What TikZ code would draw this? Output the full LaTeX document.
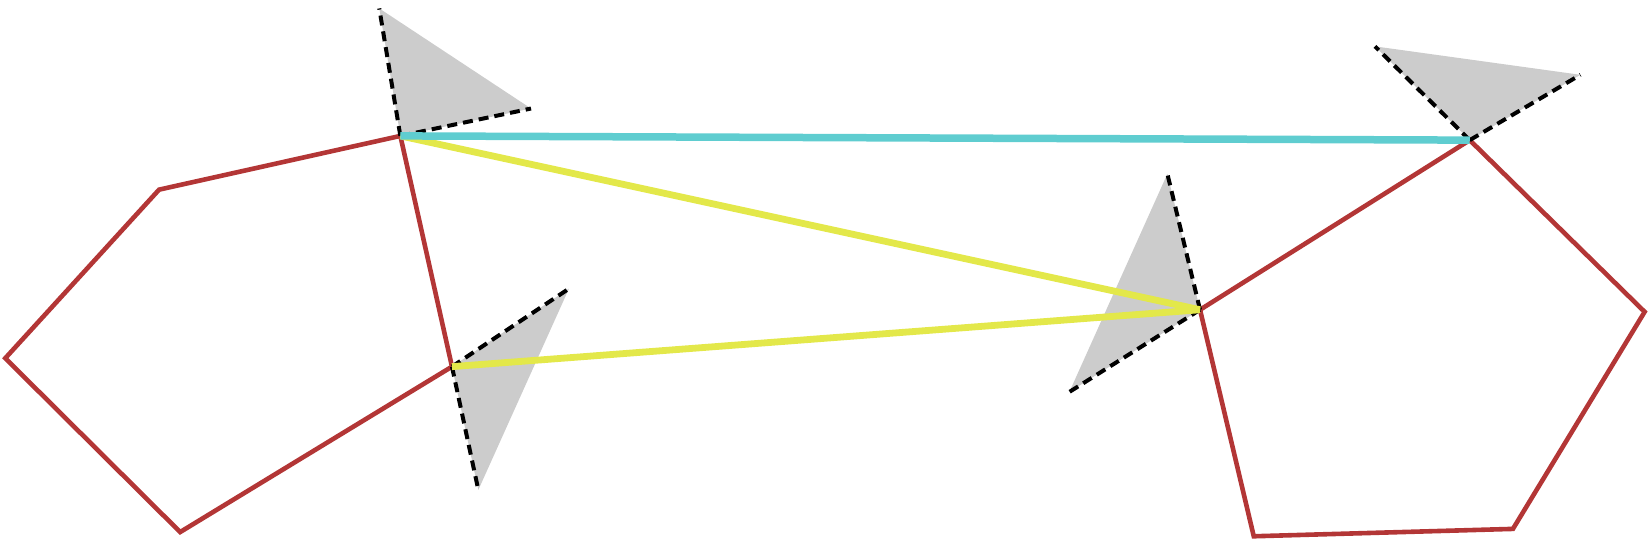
\documentclass[tikz,border=0pt]{standalone}
\definecolor{polyred}{HTML}{B33636}
\definecolor{linkcyan}{HTML}{5FCDD0}
\definecolor{linkyellow}{HTML}{E3E84A}
\definecolor{wedgegray}{HTML}{CCCCCC}
\tikzset{
  poly/.style={draw=polyred, line width=4.6pt, line join=miter},
  wedge/.style={fill=wedgegray, draw=none},
  wedgeedge/.style={draw=black, line width=4pt, dash pattern=on 10pt off 6pt},
  cyanlink/.style={draw=linkcyan, line width=7.5pt},
  yellowlink/.style={draw=linkyellow, line width=6.8pt},
}
\begin{document}
\begin{tikzpicture}[x=1.05357pt,y=-1.05357pt]
\useasboundingbox (0,0) rectangle (1568,516.33);
% left pentagon
\coordinate (A1) at (380,129);
\coordinate (A2) at (151,180);
\coordinate (A3) at (5,340);
\coordinate (A4) at (171,505);
\coordinate (A5) at (429,348);
% right pentagon
\coordinate (B1) at (1395,133);
\coordinate (B2) at (1561,296);
\coordinate (B3) at (1436,502);
\coordinate (B4) at (1190,509);
\coordinate (B5) at (1139,294);
% wedge tips
\coordinate (T1a) at (360,8);
\coordinate (T1b) at (504,103);
\coordinate (T2a) at (540,274);
\coordinate (T2b) at (454,465);
\coordinate (T3a) at (1108,165);
\coordinate (T3b) at (1015,372);
\coordinate (T4a) at (1305,44);
\coordinate (T4b) at (1500,71);
% gray wedges
\fill[wedge] (A1) -- (T1a) -- (T1b) -- cycle;
\fill[wedge] (A5) -- (T2a) -- (T2b) -- cycle;
\fill[wedge] (B5) -- (T3a) -- (T3b) -- cycle;
\fill[wedge] (B1) -- (T4a) -- (T4b) -- cycle;
% pentagons
\draw[poly] (A1) -- (A2) -- (A3) -- (A4) -- (A5) -- cycle;
\draw[poly] (B1) -- (B2) -- (B3) -- (B4) -- (B5) -- cycle;
% dashed wedge edges
\draw[wedgeedge] (A1) -- (T1a);
\draw[wedgeedge] (A1) -- (T1b);
\draw[wedgeedge] (A5) -- (T2a);
\draw[wedgeedge] (A5) -- (T2b);
\draw[wedgeedge] (B5) -- (T3a);
\draw[wedgeedge] (B5) -- (T3b);
\draw[wedgeedge] (B1) -- (T4a);
\draw[wedgeedge] (B1) -- (T4b);
% links
\draw[yellowlink] (A1) -- (B5);
\draw[yellowlink] (A5) -- (B5);
\draw[cyanlink] (A1) -- (B1);
\end{tikzpicture}
\end{document}
